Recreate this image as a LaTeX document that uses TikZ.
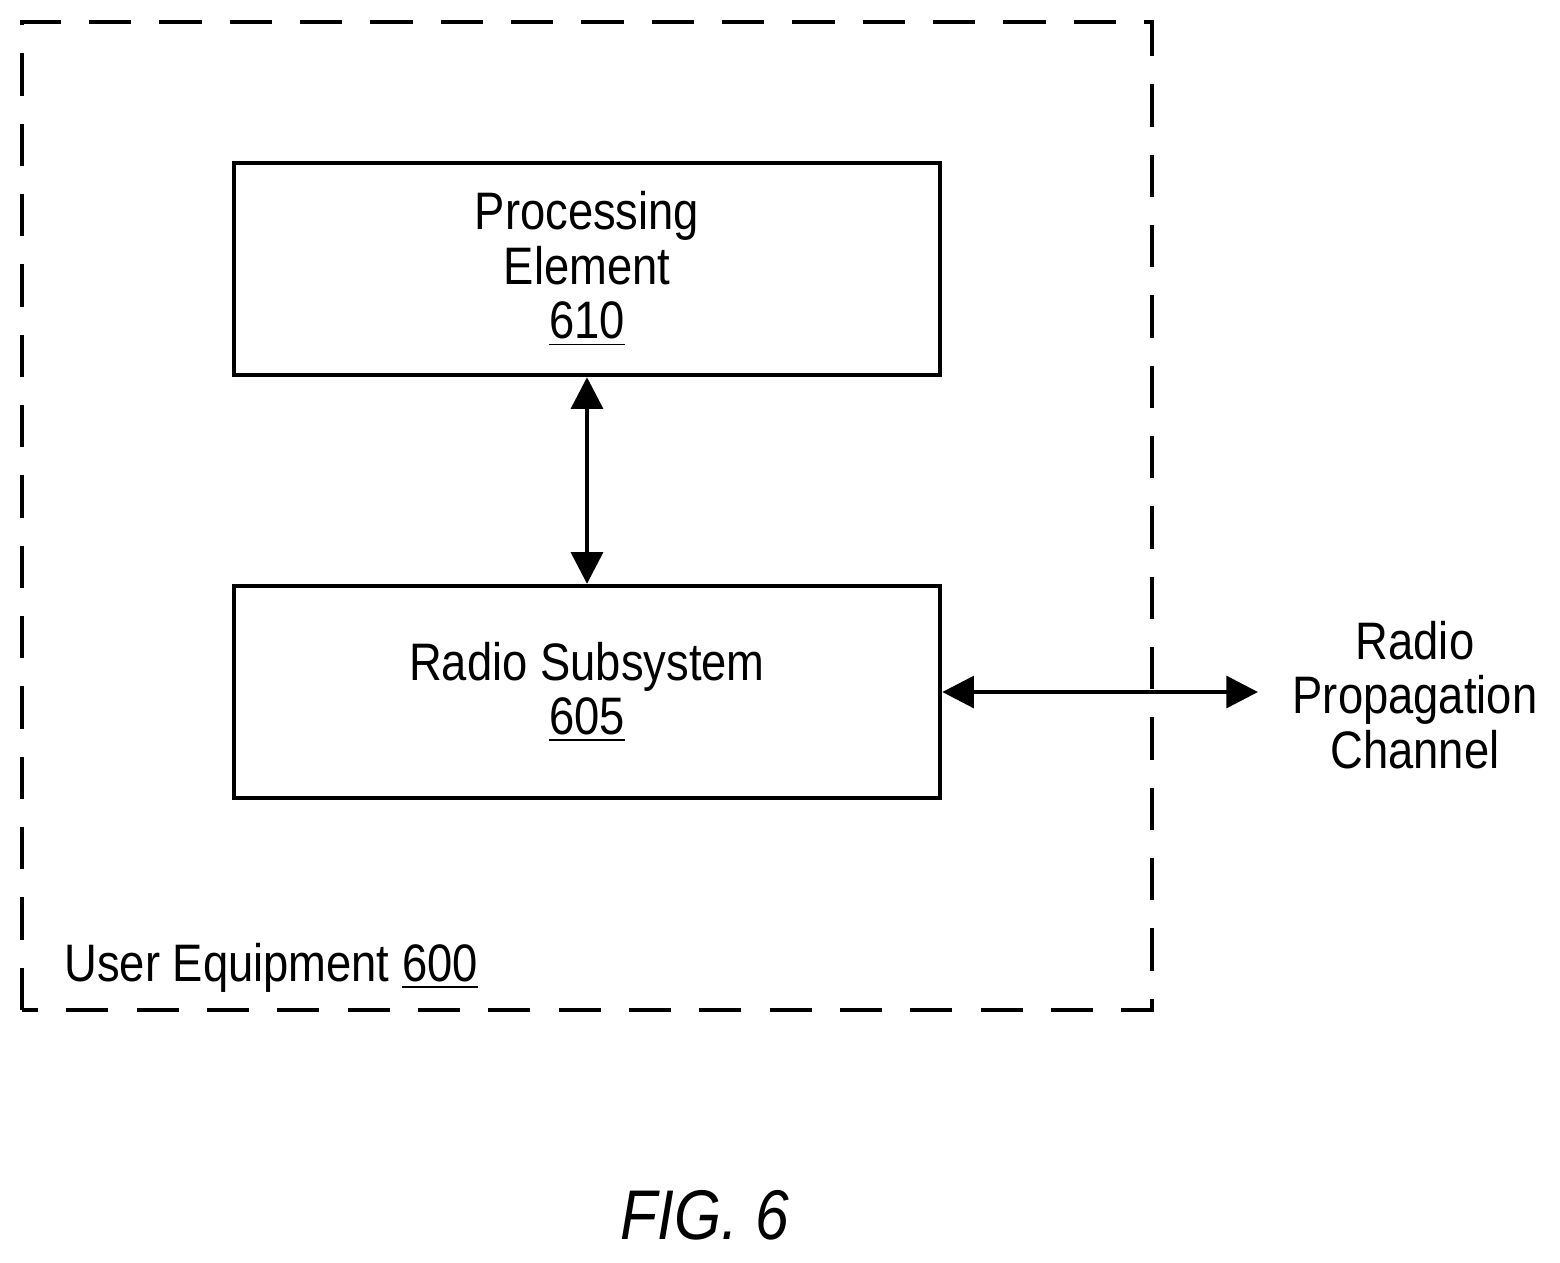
\documentclass[tikz,border=0pt]{standalone}
\usepackage{fontspec}
\setmainfont{Liberation Sans}[FakeStretch=0.86]
\usetikzlibrary{arrows.meta}
\begin{document}
\begin{tikzpicture}[x=0.01cm,y=-0.01cm,
  box/.style={draw,line width=1.2pt,minimum width=7.06cm,minimum height=2.12cm,align=center,inner sep=0pt},
  dbox/.style={line width=1.2pt,dash pattern=on 12pt off 8pt},
  arr/.style={line width=1.2pt,{Triangle[length=9pt,width=9pt]}-{Triangle[length=9pt,width=9pt]}},
  txt/.style={font=\fontsize{15}{15.5}\selectfont,align=center}]
\useasboundingbox (0,0) rectangle (1560,1262);
\draw[dbox] (22,1010) -- (22,22) -- (1152,22) -- (1152,1010) -- cycle;
\node[box,txt] (pe) at (587,269) {Processing\\Element\\\underline{610}};
\node[box,txt] (rs) at (587,692) {Radio Subsystem\\\underline{605}};
\coordinate (rc) at (1258,692);
\node[txt] (ch) at (1415,695) {Radio\\Propagation\\Channel};
\draw[arr] (pe.south) -- (rs.north);
\draw[arr] (rs.east) -- (rc);
\node[txt,anchor=west] (ue) at (52,968) {User Equipment \underline{600}};
\node[font=\fontsize{20}{24}\selectfont\itshape] (fig) at (705,1215) {FIG. 6};
\end{tikzpicture}
\end{document}
